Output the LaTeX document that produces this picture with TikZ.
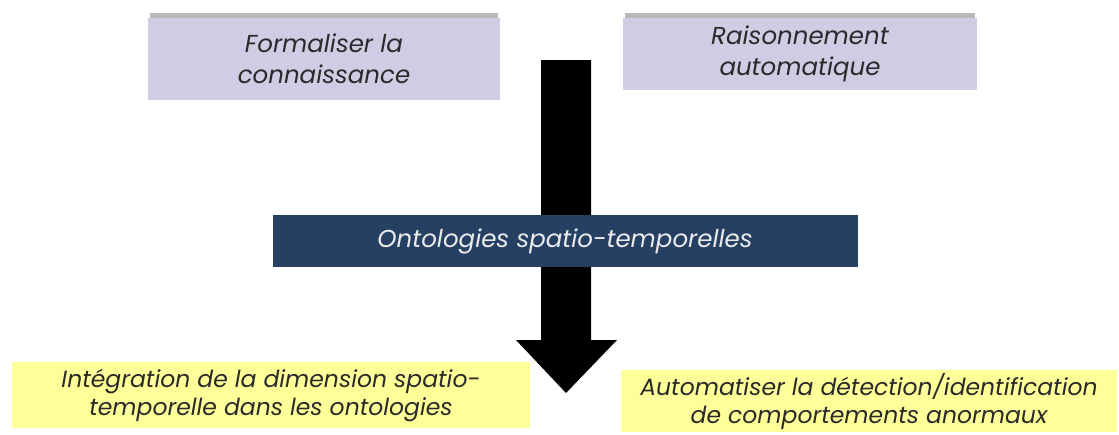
\documentclass[tikz,border=0pt]{standalone}
\usepackage{fontspec}
\setmainfont{Poppins}
\definecolor{lavbox}{HTML}{CFCCE3}
\definecolor{navybox}{HTML}{264063}
\definecolor{yelbox}{HTML}{FFFF99}
\definecolor{txtgray}{HTML}{2A2A2A}
\begin{document}
\begin{tikzpicture}[x=1pt,y=-1pt,line cap=round,line join=round,
    box/.style={inner sep=0pt,align=center,font=\fontsize{24.5}{31}\selectfont\itshape,text=txtgray},
    topbox/.style={box,fill=lavbox},
    lowbox/.style={box,fill=yelbox,font=\fontsize{23.5}{28}\selectfont\itshape}]
  \useasboundingbox (0,0) rectangle (1119,434);
  % block arrow
  \coordinate (T) at (566,393);
  \fill[black] (541,60) -- (591,60) -- (591,340) -- (617,340) -- (T) -- (516,340) -- (541,340) -- cycle;
  % top boxes with shadow
  \fill[gray!55] (150,13) rectangle (498,19);
  \fill[gray!30] (148,19) rectangle (500,22);
  \node[topbox,minimum width=352pt,minimum height=82pt] (form) at (324,59) {Formaliser la\\connaissance};
  \fill[gray!55] (625,13) rectangle (975,19);
  \fill[gray!30] (623,19) rectangle (977,22);
  \node[topbox,minimum width=354pt,minimum height=72pt] (rais) at (800,54) {Raisonnement\\automatique};
  \node[box,fill=navybox,text=white!92!black,minimum width=585pt,minimum height=52pt] (onto) at (565,241) {Ontologies spatio-temporelles};
  \node[lowbox,minimum width=518pt,minimum height=66pt] (integ) at (271,395) {Intégration de la dimension spatio-\\temporelle dans les ontologies};
  \node[lowbox,minimum width=496pt,minimum height=62pt] (auto) at (869,401) {Automatiser la détection/identification\\de comportements anormaux};
\end{tikzpicture}
\end{document}
